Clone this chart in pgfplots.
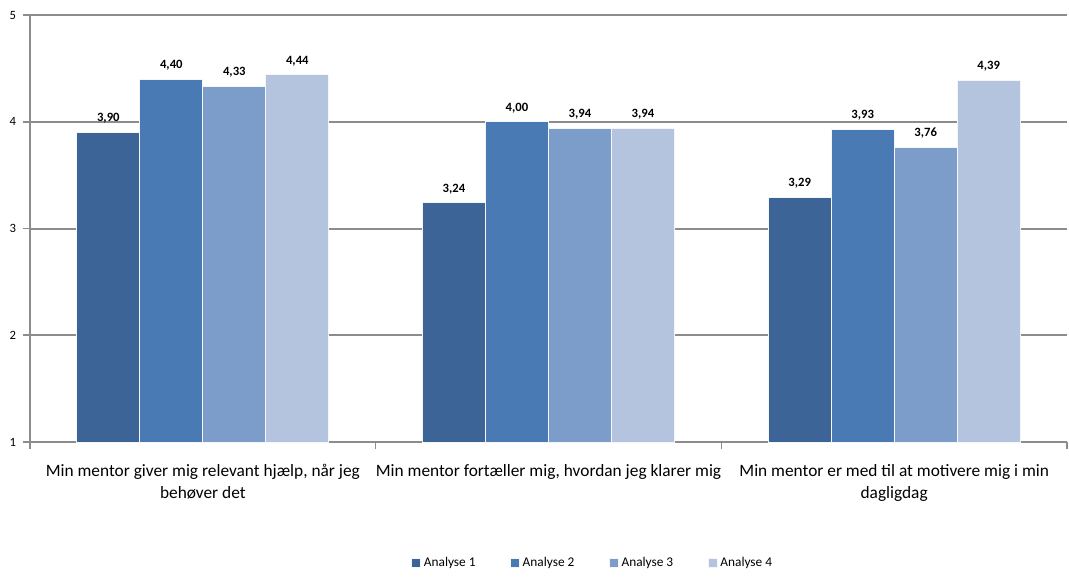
\documentclass[border=0pt]{standalone}
\usepackage{pgfplots}
\pgfplotsset{compat=1.18}
\usepackage{fontspec}
\setmainfont{Carlito}
\definecolor{cA}{HTML}{3C6497}
\definecolor{cB}{HTML}{4A7AB4}
\definecolor{cC}{HTML}{7C9CCA}
\definecolor{cD}{HTML}{B4C4DF}
\definecolor{axgray}{HTML}{8C8C8C}
\begin{document}
\begin{tikzpicture}
\useasboundingbox (-22.5pt,-102.75pt) rectangle (779.25pt,331.5pt);
\begin{axis}[
  scale only axis,
  width=777.75pt, height=320.25pt,
  at={(0pt,0pt)}, anchor=south west,
  xmin=-0.5, xmax=2.5,
  ymin=1, ymax=5,
  ytick={1,2,3,4,5},
  xtick={0,1,2},
  xticklabels={{Min mentor giver mig relevant hjælp, når jeg\\behøver det},
               {Min mentor fortæller mig, hvordan jeg klarer mig},
               {Min mentor er med til at motivere mig i min\\dagligdag}},
  minor xtick={-0.5,0.5,1.5,2.5},
  major x tick style={draw=none},
  minor tick length=5pt,
  major tick length=5pt,
  tick align=outside,
  axis x line*=bottom,
  axis y line*=left,
  axis line style={draw=axgray, line width=1.5pt},
  every tick/.style={draw=axgray, line width=1.2pt},
  ymajorgrids,
  grid style={draw=axgray, line width=1.5pt},
  /pgf/number format/assume math mode=true,
  yticklabel style={font=\fontsize{9.5}{11}\selectfont, xshift=-2pt},
  xticklabel style={font=\fontsize{13}{16.5}\selectfont, align=center, yshift=-8pt},
  ybar=0pt,
  bar width=47.25pt,
  every axis plot/.append style={draw=white!85!cD, line width=0.6pt},
  nodes near coords,
  nodes near coords style={font=\bfseries\fontsize{9.5}{11}\selectfont, text=black, yshift=3pt,
    /pgf/number format/.cd, fixed, fixed zerofill, precision=2, use comma, assume math mode=true},
  legend style={at={(0.543,-0.283)}, anchor=center, draw=none, legend columns=4,
    font=\fontsize{10}{12}\selectfont,
    /tikz/every even column/.append style={column sep=24pt}},
  legend image code/.code={\fill[#1] (0pt,-3.4pt) rectangle (6.75pt,3.4pt);},
]
\addplot[fill=cA] coordinates {(0,3.90) (1,3.24) (2,3.29)};
\addplot[fill=cB] coordinates {(0,4.40) (1,4.00) (2,3.93)};
\addplot[fill=cC] coordinates {(0,4.33) (1,3.94) (2,3.76)};
\addplot[fill=cD] coordinates {(0,4.44) (1,3.94) (2,4.39)};
\legend{Analyse 1,Analyse 2,Analyse 3,Analyse 4}
\end{axis}
\end{tikzpicture}
\end{document}
